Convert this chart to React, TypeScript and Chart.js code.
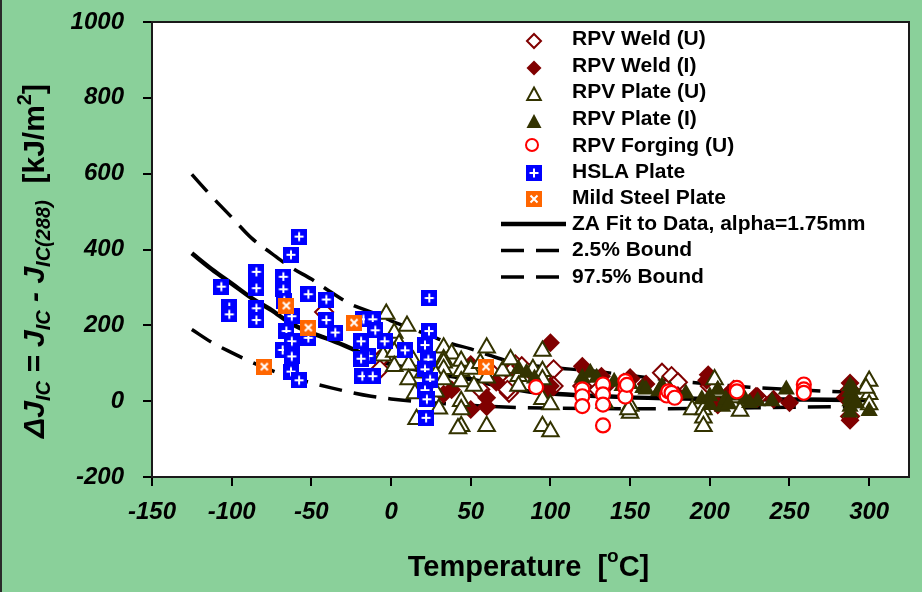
import React, { useEffect, useRef } from 'react';
import { Chart, registerables } from 'chart.js';

Chart.register(...registerables);

const FONT = '"Liberation Sans", Arial, Helvetica, sans-serif';
const GREEN = '#8AD09A';
const OLIVE = '#333300';
const MAROON = '#800000';

const X_TICKS = [-150, -100, -50, 0, 50, 100, 150, 200, 250, 300];
const X_MIN = -150;
const X_MAX = 325;
const Y_MIN = -200;
const Y_MAX = 1000;
const Y_STEP = 200;

const LEGEND_LABELS = [
  'RPV Weld (U)',
  'RPV Weld (I)',
  'RPV Plate (U)',
  'RPV Plate (I)',
  'RPV Forging (U)',
  'HSLA Plate',
  'Mild Steel Plate',
  'ZA Fit to Data, alpha=1.75mm',
  '2.5% Bound',
  '97.5% Bound',
];

// [temperature °C, ΔJ kJ/m²]
const weldU: number[][] = [
  [-42, 235], [-7, 110], [-7, 84], [56, 31], [74, 22], [78, 97], [75, 76], [75, 50], [73, 30],
  [82, 92], [102, 84], [102, 40], [90, 70], [62, 80], [120, 40], [130, 30], [150, 60], [170, 75],
  [176, 66], [180, 50], [175, 20], [200, 40], [215, 30], [230, 10], [288, 30], [288, -40],
];
const weldI: number[][] = [
  [100, 154], [60, 9], [50, -22], [33, 18], [50, 97], [38, 30], [60, -15], [66, 50], [100, 40],
  [98, 26], [120, 92], [122, 80], [132, 66], [150, 57], [135, 40], [160, 45], [170, 25], [180, 15],
  [199, 70], [198, 55], [212, 20], [229, 13], [250, -4], [288, 48], [288, -50], [285, 10], [240, 5],
  [205, -10],
];
const plateU: number[][] = [
  [-3, 230], [10, 198], [2, 180], [5, 150], [-5, 120], [2, 130], [2, 92], [14, 106], [11, 96],
  [11, 57], [20, 75], [25, 40], [16, -48], [33, 141], [38, 125], [33, 110], [33, 101], [33, 84],
  [28, 70], [33, 57], [44, 106], [44, 79], [44, 52], [44, 0], [44, -22], [44, -66], [42, -72],
  [50, 85], [52, 40], [56, 100], [60, 141], [60, 62], [60, -66], [70, 80], [75, 110], [80, 66],
  [80, 40], [89, 84], [95, 132], [95, 79], [95, 57], [95, 5], [100, -9], [95, -66], [100, -80],
  [134, -5], [150, -13], [150, -31], [149, -22], [189, -22], [196, -22], [196, -44], [196, -66],
  [203, 57], [205, 25], [215, 10], [219, -26], [300, 53], [300, 18], [300, -9], [298, 35],
  [15, 20], [28, 25], [30, -20],
];
const plateI: number[][] = [
  [120, 62], [125, 75], [129, 62], [140, 51], [145, 40], [150, 45], [158, 35], [160, 31],
  [168, 26], [175, 30], [185, 20], [195, 5], [200, 13], [200, -10], [205, 30], [208, -15],
  [210, 5], [215, 15], [222, 5], [230, 0], [239, 0], [248, 31], [288, 40], [288, 25], [288, 10],
  [288, 0], [288, -15], [288, -30], [290, 30], [292, -5], [300, -26], [85, 75], [90, 60],
  [80, 85], [170, 40], [225, -5], [212, -8],
];
const forging: number[][] = [
  [91, 37], [120, 31], [120, 13], [120, -13], [133, 44], [133, 18], [133, -9], [133, -64],
  [147, 53], [147, 35], [147, 12], [148, 43], [173, 15], [174, 26], [176, 22], [178, 9],
  [217, 35], [217, 26], [259, 44], [259, 31], [259, 22],
];
const hsla: number[][] = [
  [-106.5, 302], [-101.5, 248], [-101.5, 229], [-84.5, 341], [-84.5, 298], [-84.5, 245],
  [-84.5, 214], [-67.6, 328], [-67.6, 295], [-67, 265], [-62.3, 224], [-65.7, 185], [-62.3, 158],
  [-68, 135], [-62.3, 118], [-62.8, 78], [-57.7, 55], [-62.8, 386], [-57.7, 434], [-51.9, 282],
  [-51.9, 167], [-40.6, 268], [-40.6, 214], [-35, 181], [-18.8, 158], [-14.2, 119], [-18.8, 112],
  [-18, 66], [-11.5, 66], [-17.3, 216], [-11.5, 216], [-9.9, 187], [-4, 158], [8.8, 134],
  [24, 272], [23.8, 185], [21.3, 148], [23.4, 110], [21.3, 84], [24.5, 57], [21.3, 29],
  [22.5, 5], [22, -44],
];
const mildSteel: number[][] = [
  [-65.7, 252], [-51.9, 194], [-79.5, 91], [-23.2, 207], [59.6, 91],
];

const fitT = [-125, -112.5, -100, -87.5, -75, -62.5, -50, -37.5, -25, -12.5, 0, 12.5, 25, 37.5, 50, 62.5, 75, 87.5, 100, 125, 150, 175, 200, 225, 250, 275, 300];
const fitJ = [390, 348, 310, 272, 240, 204, 180, 161, 139, 115, 97, 86, 76, 66, 58, 45, 33, 25, 20, 14, 10, 8, 6, 5, 4.5, 4, 3];
const upperT = [-125, -112.5, -100, -87.5, -75, -62.5, -50, -37.5, -25, -12.5, 0, 12.5, 25, 37.5, 50, 62.5, 75, 87.5, 100, 125, 150, 175, 200, 225, 250, 275, 300];
const upperJ = [598, 540, 485, 430, 390, 352, 322, 287, 255, 235, 212, 192, 172, 152, 138, 120, 104, 95, 89, 80, 68, 55, 45, 37, 31, 26, 22];
const lowerT = [-125, -112.5, -100, -87.5, -75, -62.5, -50, -37.5, -25, -12.5, 0, 25, 50, 75, 100, 150, 200, 250, 300];
const lowerJ = [189, 155, 128, 103, 81, 63, 48, 35, 23, 13, 6, -4, -11, -16, -18, -20, -19, -16, -14];

function makeSquare(fill: string, mark: 'plus' | 'cross'): HTMLCanvasElement {
  const c = document.createElement('canvas');
  c.width = 16;
  c.height = 16;
  const g = c.getContext('2d')!;
  g.fillStyle = fill;
  g.fillRect(0, 0, 16, 16);
  g.strokeStyle = '#fff';
  g.lineWidth = 2;
  g.beginPath();
  if (mark === 'plus') {
    g.moveTo(8, 3.5);
    g.lineTo(8, 12.5);
    g.moveTo(3.5, 8);
    g.lineTo(12.5, 8);
  } else {
    g.moveTo(4.5, 4.5);
    g.lineTo(11.5, 11.5);
    g.moveTo(11.5, 4.5);
    g.lineTo(4.5, 11.5);
  }
  g.stroke();
  return c;
}

const pts = (arr: number[][]) => arr.map(([x, y]) => ({ x, y }));
const linePts = (xs: number[], ys: number[]) => xs.map((x, i) => ({ x, y: ys[i] }));

type Seg = { t: string; font: string; dy?: number };
function drawSegs(ctx: CanvasRenderingContext2D, segs: Seg[], cx: number, baseline: number) {
  let total = 0;
  for (const s of segs) {
    ctx.font = s.font;
    total += ctx.measureText(s.t).width;
  }
  let x = cx - total / 2;
  ctx.textAlign = 'left';
  ctx.textBaseline = 'alphabetic';
  for (const s of segs) {
    ctx.font = s.font;
    ctx.fillText(s.t, x, baseline + (s.dy || 0));
    x += ctx.measureText(s.t).width;
  }
}

export default function App() {
  const ref = useRef<HTMLCanvasElement | null>(null);

  useEffect(() => {
    const canvas = ref.current;
    if (!canvas) return;
    const hslaImg = makeSquare('#0000FF', 'plus');
    const mildImg = makeSquare('#FF6600', 'cross');

    const B = `bold 30px ${FONT}`;
    const BI = `italic bold 30px ${FONT}`;
    const SI = `italic bold 20px ${FONT}`;
    const S = `bold 20px ${FONT}`;

    const decor = {
      id: 'decor',
      beforeDraw(chart: any) {
        const { ctx, chartArea: a, width, height } = chart;
        ctx.save();
        ctx.fillStyle = GREEN;
        ctx.fillRect(0, 0, width, height);
        ctx.fillStyle = '#ffffff';
        ctx.fillRect(a.left, a.top, a.right - a.left, a.bottom - a.top);
        ctx.fillStyle = '#2a2a2a';
        ctx.fillRect(0, 0, 2, height);
        ctx.restore();
      },
      afterDraw(chart: any) {
        const { ctx, chartArea: a } = chart;
        ctx.save();
        // plot border
        ctx.strokeStyle = '#1a1a1a';
        ctx.lineWidth = 2;
        ctx.strokeRect(a.left, a.top, a.right - a.left, a.bottom - a.top);

        // legend
        const mx = 534;
        const tx = 572;
        const markY = [41, 68, 94, 121, 145, 173, 199];
        const baseY = [45, 71.5, 98, 125, 151.5, 178, 203.5, 230, 256, 282.5];
        const lineY = [224, 250.5, 277];
        ctx.lineWidth = 2;
        // weld U
        ctx.beginPath();
        ctx.moveTo(mx - 7, markY[0]); ctx.lineTo(mx, markY[0] - 7); ctx.lineTo(mx + 7, markY[0]); ctx.lineTo(mx, markY[0] + 7); ctx.closePath();
        ctx.fillStyle = '#fff'; ctx.fill(); ctx.strokeStyle = MAROON; ctx.stroke();
        // weld I
        ctx.beginPath();
        ctx.moveTo(mx - 7.5, markY[1]); ctx.lineTo(mx, markY[1] - 7.5); ctx.lineTo(mx + 7.5, markY[1]); ctx.lineTo(mx, markY[1] + 7.5); ctx.closePath();
        ctx.fillStyle = MAROON; ctx.fill();
        // plate U
        ctx.beginPath();
        ctx.moveTo(mx, markY[2] - 6.5); ctx.lineTo(mx + 6.8, markY[2] + 6); ctx.lineTo(mx - 6.8, markY[2] + 6); ctx.closePath();
        ctx.fillStyle = '#fff'; ctx.fill(); ctx.strokeStyle = OLIVE; ctx.stroke();
        // plate I
        ctx.beginPath();
        ctx.moveTo(mx, markY[3] - 7); ctx.lineTo(mx + 7.5, markY[3] + 7); ctx.lineTo(mx - 7.5, markY[3] + 7); ctx.closePath();
        ctx.fillStyle = OLIVE; ctx.fill();
        // forging
        ctx.beginPath();
        ctx.arc(mx - 2, markY[4], 6, 0, Math.PI * 2);
        ctx.fillStyle = '#fff'; ctx.fill(); ctx.strokeStyle = '#FF0000'; ctx.stroke();
        // squares
        ctx.drawImage(hslaImg, mx - 8, markY[5] - 8);
        ctx.drawImage(mildImg, mx - 8, markY[6] - 8);
        // lines
        ctx.strokeStyle = '#000';
        ctx.lineWidth = 4.5;
        ctx.beginPath(); ctx.moveTo(501, lineY[0]); ctx.lineTo(566, lineY[0]); ctx.stroke();
        ctx.lineWidth = 3.5;
        for (const y of [lineY[1], lineY[2]]) {
          ctx.beginPath(); ctx.moveTo(501, y); ctx.lineTo(524, y); ctx.moveTo(536, y); ctx.lineTo(559, y); ctx.stroke();
        }
        ctx.fillStyle = '#000';
        ctx.font = `bold 21px ${FONT}`;
        ctx.textAlign = 'left';
        ctx.textBaseline = 'alphabetic';
        LEGEND_LABELS.forEach((l, i) => ctx.fillText(l, tx, baseY[i]));

        // x title
        ctx.fillStyle = '#000';
        drawSegs(ctx, [
          { t: 'Temperature  [', font: `bold 29px ${FONT}` },
          { t: 'o', font: `bold 19px ${FONT}`, dy: -14 },
          { t: 'C]', font: `bold 29px ${FONT}` },
        ], 528.5, 576);

        // y title
        ctx.save();
        ctx.translate(44, 261);
        ctx.rotate(-Math.PI / 2);
        drawSegs(ctx, [
          { t: '\u0394J', font: BI },
          { t: 'IC', font: SI, dy: 6 },
          { t: ' = J', font: BI },
          { t: 'IC', font: SI, dy: 6 },
          { t: ' - J', font: BI },
          { t: 'IC(288)', font: SI, dy: 6 },
          { t: '  [kJ/m', font: B },
          { t: '2', font: S, dy: -13 },
          { t: ']', font: B },
        ], 0, 0);
        ctx.restore();
        ctx.restore();
      },
    };

    const xTickFont = { family: FONT, size: 24, weight: 'bold' as const, style: 'italic' as const };
    const yTickFont = { family: FONT, size: 24, weight: 'bold' as const, style: 'italic' as const, lineHeight: 0.2 };

    const chart = new Chart(canvas, {
      type: 'scatter',
      data: {
        datasets: [
          {
            label: LEGEND_LABELS[7], data: linePts(fitT, fitJ), showLine: true, pointRadius: 0,
            borderColor: '#000', borderWidth: 4.5, cubicInterpolationMode: 'monotone', order: 9,
          } as any,
          {
            label: LEGEND_LABELS[8], data: linePts(lowerT, lowerJ), showLine: true, pointRadius: 0,
            borderColor: '#000', borderWidth: 3.5, borderDash: [23, 12], cubicInterpolationMode: 'monotone', order: 8,
          } as any,
          {
            label: LEGEND_LABELS[9], data: linePts(upperT, upperJ), showLine: true, pointRadius: 0,
            borderColor: '#000', borderWidth: 3.5, borderDash: [23, 12], cubicInterpolationMode: 'monotone', order: 8,
          } as any,
          {
            label: LEGEND_LABELS[0], data: pts(weldU), pointStyle: 'rectRot', pointRadius: 9,
            backgroundColor: '#fff', borderColor: MAROON, borderWidth: 2, order: 7,
          },
          {
            label: LEGEND_LABELS[1], data: pts(weldI), pointStyle: 'rectRot', pointRadius: 9.5,
            backgroundColor: MAROON, borderColor: MAROON, borderWidth: 0, order: 6,
          },
          {
            label: LEGEND_LABELS[2], data: pts(plateU), pointStyle: 'triangle', pointRadius: 9.5,
            backgroundColor: '#fff', borderColor: OLIVE, borderWidth: 2, order: 5,
          },
          {
            label: LEGEND_LABELS[3], data: pts(plateI), pointStyle: 'triangle', pointRadius: 10,
            backgroundColor: OLIVE, borderColor: OLIVE, borderWidth: 0, order: 4,
          },
          {
            label: LEGEND_LABELS[4], data: pts(forging), pointStyle: 'circle', pointRadius: 7,
            backgroundColor: '#fff', borderColor: '#FF0000', borderWidth: 2.2, order: 3,
          },
          {
            label: LEGEND_LABELS[5], data: pts(hsla), pointStyle: hslaImg, pointRadius: 8, order: 2,
          },
          {
            label: LEGEND_LABELS[6], data: pts(mildSteel), pointStyle: mildImg, pointRadius: 8, order: 1,
          },
        ],
      },
      options: {
        animation: false,
        responsive: false,
        devicePixelRatio: 1,
        layout: { padding: { left: 0, top: 22, right: 13, bottom: 0 } },
        plugins: { legend: { display: false }, tooltip: { enabled: false }, title: { display: false } },
        scales: {
          x: {
            type: 'linear',
            min: X_MIN,
            max: X_MAX,
            afterBuildTicks: (s: any) => { s.ticks = X_TICKS.map((v) => ({ value: v })); },
            afterFit: (s: any) => { s.height = 115; },
            grid: { display: true, drawOnChartArea: false, drawTicks: true, tickLength: 9, color: '#000', lineWidth: 2 },
            border: { display: false },
            ticks: { font: xTickFont, color: '#000', padding: 12, maxRotation: 0, autoSkip: false, callback: (v: any) => String(v) },
          },
          y: {
            type: 'linear',
            min: Y_MIN,
            max: Y_MAX,
            afterFit: (s: any) => { s.width = 152; },
            grid: { display: true, drawOnChartArea: false, drawTicks: true, tickLength: 9, color: '#000', lineWidth: 2 },
            border: { display: false },
            ticks: { stepSize: Y_STEP, font: yTickFont, color: '#000', padding: 19, callback: (v: any) => String(v) },
          },
        },
      },
      plugins: [decor],
    } as any);

    return () => chart.destroy();
  }, []);

  return (
    <div style={{ position: 'fixed', left: 0, top: 0, width: 922, height: 592 }}>
      <canvas ref={ref} width={922} height={592} style={{ display: 'block', width: 922, height: 592 }} />
    </div>
  );
}
